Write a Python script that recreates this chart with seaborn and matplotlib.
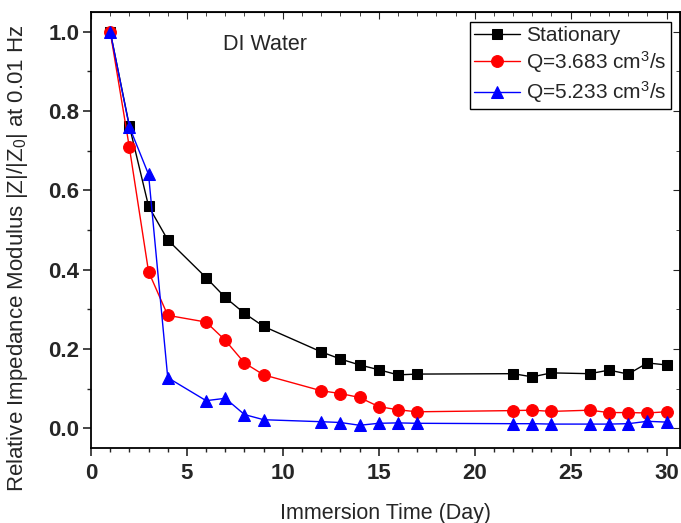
import numpy as np
import pandas as pd
import matplotlib
matplotlib.use("Agg")
import matplotlib.pyplot as plt
import seaborn as sns
from matplotlib.ticker import MultipleLocator

days = [1, 2, 3, 4, 6, 7, 8, 9, 12, 13, 14, 15, 16, 17, 22, 23, 24, 26, 27, 28, 29, 30]
stationary = [1.0, 0.762, 0.56, 0.475, 0.38, 0.33, 0.29, 0.257, 0.193, 0.175, 0.16,
              0.148, 0.135, 0.137, 0.138, 0.130, 0.140, 0.138, 0.147, 0.137, 0.165, 0.160]
q3683 = [1.0, 0.708, 0.395, 0.285, 0.268, 0.222, 0.165, 0.135, 0.095, 0.088, 0.078,
         0.055, 0.047, 0.042, 0.045, 0.046, 0.043, 0.046, 0.040, 0.040, 0.039, 0.042]
q5233 = [1.0, 0.76, 0.64, 0.128, 0.070, 0.076, 0.035, 0.022, 0.017, 0.015, 0.008,
         0.013, 0.014, 0.013, 0.012, 0.012, 0.011, 0.011, 0.011, 0.012, 0.018, 0.016]
labels = ["Stationary", "Q=3.683 cm$^3$/s", "Q=5.233 cm$^3$/s"]
colors = ["black", "red", "blue"]
markers = ["s", "o", "^"]
msizes = [7.5, 8.5, 8.5]

sns.set_style("ticks")
plt.rcParams['font.family'] = ['Liberation Sans', 'DejaVu Sans']
plt.rcParams['mathtext.fontset'] = 'custom'
plt.rcParams['mathtext.rm'] = 'Liberation Sans'
plt.rcParams['mathtext.it'] = 'Liberation Sans:italic'
plt.rcParams['mathtext.bf'] = 'Liberation Sans:bold'

FS = 15.5
TFS = 16

fig = plt.figure(figsize=(6.81, 5.23), dpi=100)
ax = fig.add_axes([91/681, (523-448.3)/523, (680-91)/681, (448.3-11.7)/523])

for vals, lab, c, m, ms in zip([stationary, q3683, q5233], labels, colors, markers, msizes):
    df = pd.DataFrame({"day": days, "val": vals})
    sns.lineplot(data=df, x="day", y="val", ax=ax, color=c, marker=m, markersize=ms,
                 markeredgecolor=c, linewidth=1.0, label=lab)

ax.set_xlim(0, 30.7)
ax.set_ylim(-0.05, 1.05)
ax.xaxis.set_major_locator(MultipleLocator(5))
ax.xaxis.set_minor_locator(MultipleLocator(1))
ax.yaxis.set_major_locator(MultipleLocator(0.2))
ax.yaxis.set_minor_locator(MultipleLocator(0.1))
ax.set_yticks([0.0, 0.2, 0.4, 0.6, 0.8, 1.0])
ax.set_yticklabels(["0.0", "0.2", "0.4", "0.6", "0.8", "1.0"])

ax.tick_params(which='major', direction='out', length=5.5, width=1.2, labelsize=TFS,
               top=False, right=False)
ax.tick_params(axis='x', which='major', pad=5)
ax.tick_params(axis='y', which='major', pad=3)
ax.tick_params(which='minor', direction='out', length=3, width=1.0, top=False, right=False)
for lbl in ax.get_xticklabels() + ax.get_yticklabels():
    lbl.set_fontweight('bold')

# inner ticks on top and right
ax_top = ax.secondary_xaxis('top')
ax_top.xaxis.set_major_locator(MultipleLocator(5))
ax_top.xaxis.set_minor_locator(MultipleLocator(1))
ax_top.tick_params(which='major', direction='in', length=5, labeltop=False)
ax_top.tick_params(which='minor', direction='in', length=3)
ax_top.set_xticklabels([])
ax_right = ax.secondary_yaxis('right')
ax_right.yaxis.set_major_locator(MultipleLocator(0.2))
ax_right.yaxis.set_minor_locator(MultipleLocator(0.1))
ax_right.tick_params(which='major', direction='in', length=5, labelright=False)
ax_right.tick_params(which='minor', direction='in', length=3)
ax_right.set_yticklabels([])

for s in ax.spines.values():
    s.set_linewidth(1.3)
    s.set_color('black')

ax.set_xlabel("Immersion Time (Day)", fontsize=FS, labelpad=14)
ax.set_ylabel("Relative Impedance Modulus |Z|/|Z$_0$| at 0.01 Hz", fontsize=16)
ax.yaxis.set_label_coords(-0.104, 0.436)

ax.text(6.9, 0.967, "DI Water", fontsize=FS, ha='left', va='center')

leg = ax.legend(loc='upper right', bbox_to_anchor=(0.984, 0.977), fontsize=15,
                frameon=True, fancybox=False, edgecolor='black', framealpha=1,
                handlelength=2.2, borderpad=0.2, labelspacing=0.2, handletextpad=0.3,
                borderaxespad=0)
leg.get_frame().set_linewidth(1.0)

fig.savefig("out.png", dpi=100)
